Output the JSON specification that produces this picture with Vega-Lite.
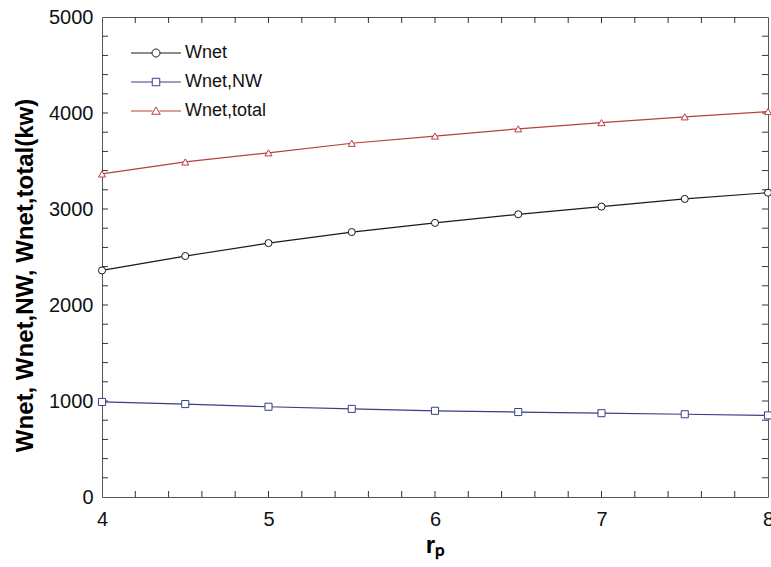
{
  "$schema": "https://vega.github.io/schema/vega-lite/v6.json",
  "width": 666,
  "height": 480,
  "autosize": "none",
  "padding": {"left": 102, "top": 17, "right": 3, "bottom": 70},
  "background": "white",
  "config": {
    "view": {"stroke": "#555555", "strokeWidth": 1},
    "font": "Liberation Sans",
    "axis": {"grid": false, "domain": false, "ticks": false, "labelFont": "Liberation Sans", "labelColor": "#111111", "labelFlush": false, "labelOverlap": false}
  },
  "datasets": {
    "series": [
      {"rp": 4, "series": "Wnet", "value": 2360},
      {"rp": 4.5, "series": "Wnet", "value": 2510},
      {"rp": 5, "series": "Wnet", "value": 2645},
      {"rp": 5.5, "series": "Wnet", "value": 2760},
      {"rp": 6, "series": "Wnet", "value": 2855},
      {"rp": 6.5, "series": "Wnet", "value": 2945},
      {"rp": 7, "series": "Wnet", "value": 3025},
      {"rp": 7.5, "series": "Wnet", "value": 3105},
      {"rp": 8, "series": "Wnet", "value": 3170},
      {"rp": 4, "series": "Wnet,NW", "value": 990},
      {"rp": 4.5, "series": "Wnet,NW", "value": 968},
      {"rp": 5, "series": "Wnet,NW", "value": 940},
      {"rp": 5.5, "series": "Wnet,NW", "value": 918},
      {"rp": 6, "series": "Wnet,NW", "value": 898},
      {"rp": 6.5, "series": "Wnet,NW", "value": 885},
      {"rp": 7, "series": "Wnet,NW", "value": 873},
      {"rp": 7.5, "series": "Wnet,NW", "value": 862},
      {"rp": 8, "series": "Wnet,NW", "value": 850},
      {"rp": 4, "series": "Wnet,total", "value": 3365},
      {"rp": 4.5, "series": "Wnet,total", "value": 3490},
      {"rp": 5, "series": "Wnet,total", "value": 3585},
      {"rp": 5.5, "series": "Wnet,total", "value": 3685},
      {"rp": 6, "series": "Wnet,total", "value": 3760},
      {"rp": 6.5, "series": "Wnet,total", "value": 3835},
      {"rp": 7, "series": "Wnet,total", "value": 3900},
      {"rp": 7.5, "series": "Wnet,total", "value": 3960},
      {"rp": 8, "series": "Wnet,total", "value": 4015}
    ],
    "yticks": [
      {"v": 200}, {"v": 400}, {"v": 600}, {"v": 800}, {"v": 1000},
      {"v": 1200}, {"v": 1400}, {"v": 1600}, {"v": 1800}, {"v": 2000},
      {"v": 2200}, {"v": 2400}, {"v": 2600}, {"v": 2800}, {"v": 3000},
      {"v": 3200}, {"v": 3400}, {"v": 3600}, {"v": 3800}, {"v": 4000},
      {"v": 4200}, {"v": 4400}, {"v": 4600}, {"v": 4800}
    ],
    "xticks": [
      {"v": 4.2}, {"v": 4.4}, {"v": 4.6}, {"v": 4.8}, {"v": 5},
      {"v": 5.2}, {"v": 5.4}, {"v": 5.6}, {"v": 5.8}, {"v": 6},
      {"v": 6.2}, {"v": 6.4}, {"v": 6.6}, {"v": 6.8}, {"v": 7},
      {"v": 7.2}, {"v": 7.4}, {"v": 7.6}, {"v": 7.8}
    ]
  },
  "data": {"name": "series"},
  "resolve": {"scale": {"shape": "independent", "stroke": "independent"}, "axis": {"x": "independent", "y": "independent"}},
  "layer": [
    {
      "data": {"name": "yticks"},
      "mark": {"type": "tick", "orient": "horizontal", "thickness": 1, "size": 6, "xOffset": 3, "color": "#333333", "opacity": 1},
      "encoding": {
        "y": {"field": "v", "type": "quantitative", "axis": null},
        "x": {"datum": 4, "type": "quantitative", "axis": null}
      }
    },
    {
      "data": {"name": "yticks"},
      "mark": {"type": "tick", "orient": "horizontal", "thickness": 1, "size": 6, "xOffset": -3, "color": "#333333", "opacity": 1},
      "encoding": {
        "y": {"field": "v", "type": "quantitative", "axis": null},
        "x": {"datum": 8, "type": "quantitative", "axis": null}
      }
    },
    {
      "data": {"name": "xticks"},
      "mark": {"type": "tick", "orient": "vertical", "thickness": 1, "size": 6, "yOffset": -3, "color": "#333333", "opacity": 1},
      "encoding": {
        "x": {"field": "v", "type": "quantitative", "axis": null},
        "y": {"datum": 0, "type": "quantitative", "axis": null}
      }
    },
    {
      "data": {"name": "xticks"},
      "mark": {"type": "tick", "orient": "vertical", "thickness": 1, "size": 6, "yOffset": 3, "color": "#333333", "opacity": 1},
      "encoding": {
        "x": {"field": "v", "type": "quantitative", "axis": null},
        "y": {"datum": 5000, "type": "quantitative", "axis": null}
      }
    },
    {
      "mark": {"type": "line", "strokeWidth": 1.2},
      "encoding": {
        "x": {"field": "rp", "type": "quantitative", "scale": {"domain": [4, 8], "nice": false, "zero": false},
              "axis": {"orient": "bottom", "values": [4, 5, 6, 7, 8], "format": "d", "labelPadding": 12, "labelFontSize": 20,
                       "title": "rₚ", "titleFont": "Liberation Sans", "titleFontSize": 24, "titleFontWeight": "bold", "titlePadding": 4}},
        "y": {"field": "value", "type": "quantitative", "scale": {"domain": [0, 5000], "nice": false},
              "axis": {"orient": "left", "values": [0, 1000, 2000, 3000, 4000, 5000], "format": "d", "labelPadding": 9, "labelFontSize": 20,
                       "title": "Wnet,  Wnet,NW,  Wnet,total(kw)", "titleFont": "Liberation Sans", "titleFontSize": 24, "titleFontWeight": "bold",
                       "titleX": -77, "titleY": 258, "titleBaseline": "middle", "titleAlign": "center", "titleAngle": -90}},
        "color": {"field": "series", "type": "nominal", "legend": null,
                  "scale": {"domain": ["Wnet", "Wnet,NW", "Wnet,total"], "range": ["#1a1a1a", "#3a3f85", "#b5403d"]}},
        "detail": {"field": "series"}
      }
    },
    {
      "mark": {"type": "point", "filled": false, "fill": "white", "fillOpacity": 1, "size": 50, "strokeWidth": 1, "opacity": 1},
      "encoding": {
        "x": {"field": "rp", "type": "quantitative", "axis": null},
        "y": {"field": "value", "type": "quantitative", "axis": null},
        "color": {"field": "series", "type": "nominal", "legend": null},
        "shape": {"field": "series", "type": "nominal", "legend": null,
                  "scale": {"domain": ["Wnet", "Wnet,NW", "Wnet,total"], "range": ["circle", "square", "triangle-up"]}}
      }
    },
    {
      "mark": {"type": "point", "filled": false, "opacity": 0, "size": 100},
      "encoding": {
        "x": {"field": "rp", "type": "quantitative", "axis": null},
        "y": {"field": "value", "type": "quantitative", "axis": null},
        "stroke": {"field": "series", "type": "nominal",
                   "scale": {"domain": ["Wnet", "Wnet,NW", "Wnet,total"], "range": ["#1a1a1a", "#3a3f85", "#b5403d"]},
                   "legend": {"orient": "none", "legendX": 45, "legendY": 27, "title": null, "padding": 0,
                             "symbolSize": 100, "symbolOpacity": 1, "symbolFillColor": "white", "symbolStrokeWidth": 1,
                             "labelFont": "Liberation Sans", "labelFontSize": 18, "labelColor": "#111111", "labelOffset": 20, "rowPadding": 11}},
        "shape": {"field": "series", "type": "nominal",
                  "scale": {"domain": ["Wnet", "Wnet,NW", "Wnet,total"],
                            "range": [
                              "M-5,0L-0.8,0M0.8,0L5,0M0.8,0A0.8,0.8,0,1,1,-0.8,0A0.8,0.8,0,1,1,0.8,0Z",
                              "M-5,0L-0.75,0M0.75,0L5,0M-0.75,-0.75L0.75,-0.75L0.75,0.75L-0.75,0.75Z",
                              "M-5,0L-0.7,0M0.7,0L5,0M0,-0.8L0.85,0.65L-0.85,0.65Z"
                            ]},
                  "legend": {"orient": "none", "legendX": 45, "legendY": 27, "title": null, "padding": 0,
                             "symbolSize": 100, "symbolOpacity": 1, "symbolFillColor": "white", "symbolStrokeWidth": 1,
                             "labelFont": "Liberation Sans", "labelFontSize": 18, "labelColor": "#111111", "labelOffset": 20, "rowPadding": 11}}
      }
    }
  ]
}
